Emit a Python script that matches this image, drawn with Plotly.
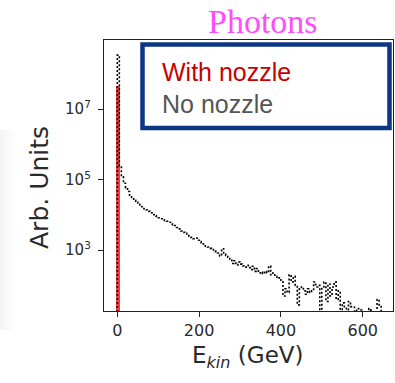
import plotly.graph_objects as go

# ---- data ----
bin_width = 5  # GeV
bin_edges_left = list(range(0, 650, 5))  # 0..645
# "No nozzle" photon spectrum, counts per 5 GeV bin (0 = empty bin)
no_nozzle_counts = [
    3.4e8, 2.5e5, 1.2e5, 7.9e4, 5.8e4, 4.6e4, 3.6e4, 3.1e4, 2.6e4, 2.3e4,
    2.0e4, 1.9e4, 1.7e4, 1.5e4, 1.4e4, 1.26e4, 1.15e4, 1.02e4, 9.5e3, 9.1e3,
    8.3e3, 7.8e3, 7.2e3, 6.9e3, 6.6e3, 6.2e3, 5.5e3, 5.2e3, 5.0e3, 4.4e3,
    4.0e3, 3.5e3, 3.2e3, 3.0e3, 2.6e3, 2.5e3, 2.3e3, 2.1e3, 2.2e3, 1.9e3,
    1.74e3, 1.6e3, 1.5e3, 1.3e3, 1.23e3, 1.12e3, 1.1e3, 955, 910, 830,
    680, 1.1e3, 760, 710, 630, 550, 420, 500, 380, 460,
    400, 355, 330, 370, 320, 280, 350, 250, 300, 225,
    240, 215, 250, 230, 355, 200, 225, 180, 160, 165,
    140, 50, 80, 63, 200, 125, 180, 100, 28, 80,
    90, 70, 56, 80, 63, 70, 125, 90, 100, 0,
    90, 125, 35, 110, 50, 90, 125, 40, 70, 0,
    32, 25, 0, 35, 25, 24, 0, 22, 0, 20,
    0, 0, 0, 22, 0, 0, 0, 40, 28, 0,
]
# "With nozzle": all photons in the lowest-energy bin
with_nozzle_energy = [2.5]
with_nozzle_counts = [4.5e7]

x_ticks = [0, 200, 400, 600]
y_ticks = [1e3, 1e5, 1e7]
y_tick_text = ["10<sup>3</sup>", "10<sup>5</sup>", "10<sup>7</sup>"]

floor = 1.0  # empty bins drawn below the axis floor (clipped)
step_x = [bin_edges_left[0]] + bin_edges_left + [bin_edges_left[-1] + bin_width]
step_y = [floor] + [c if c > 0 else floor for c in no_nozzle_counts] + [floor]

fig = go.Figure()
fig.add_trace(go.Bar(
    x=with_nozzle_energy, y=with_nozzle_counts, width=9,
    marker=dict(color="rgba(238,40,40,0.9)", line=dict(width=0)),
    showlegend=False,
))
fig.add_trace(go.Scatter(
    x=step_x, y=step_y, mode="lines", line_shape="hv",
    line=dict(color="black", width=1.6, dash="2px,2px"),
    showlegend=False,
))

tick_font = dict(family="DejaVu Sans", size=16, color="#2a2a2a")
fig.update_xaxes(
    range=[-32.5, 674], tickvals=x_ticks, ticks="outside", ticklen=5,
    tickcolor="#222", tickwidth=1.2, showline=True, linecolor="#222",
    linewidth=1.3, mirror=True, showgrid=False, zeroline=False,
    tickfont=tick_font,
)
fig.update_yaxes(
    type="log", range=[1.274, 8.96], tickvals=y_ticks, ticktext=y_tick_text,
    ticks="outside", ticklen=5, tickcolor="#222", tickwidth=1.2,
    showline=True, linecolor="#222", linewidth=1.3, mirror=True,
    showgrid=False, zeroline=False, tickfont=dict(family="DejaVu Sans", size=15, color="#2a2a2a"),
    ticklabelstandoff=4,
)

shapes = []
# faint shadow at left edge
for i, a in enumerate([0.045, 0.035, 0.025, 0.016, 0.009, 0.004]):
    shapes.append(dict(type="rect", xref="paper", yref="paper",
                       x0=(i * 3 - 104) / 289, x1=(i * 3 + 3 - 104) / 289,
                       y0=(311 - 330) / 271, y1=(311 - 130) / 271,
                       fillcolor=f"rgba(0,0,0,{a})", line=dict(width=0), layer="below"))
# legend box
shapes.append(dict(type="rect", xref="paper", yref="paper",
                   x0=(142.5 - 104) / 289, x1=(389.5 - 104) / 289,
                   y0=(311 - 128) / 271, y1=(311 - 44.5) / 271,
                   fillcolor="white", line=dict(color="#0b3585", width=4.5)))

annotations = [
    dict(text="Photons", xref="paper", yref="paper",
         x=(263 - 104) / 289, y=(311 - 1) / 271, showarrow=False,
         font=dict(family="Liberation Serif", size=34, color="#ff4cff"),
         xanchor="center", yanchor="top"),
    dict(text="With nozzle", xref="paper", yref="paper",
         x=(160 - 104) / 289, y=(311 - 72) / 271, showarrow=False,
         font=dict(family="Liberation Sans", size=25, color="#c80000"),
         xanchor="left", yanchor="middle"),
    dict(text="No nozzle", xref="paper", yref="paper",
         x=(160 - 104) / 289, y=(311 - 104) / 271, showarrow=False,
         font=dict(family="Liberation Sans", size=25, color="#555555"),
         xanchor="left", yanchor="middle"),
    dict(text="Arb. Units", xref="paper", yref="paper",
         x=(40 - 104) / 289, y=(311 - 188) / 271, showarrow=False, textangle=-90,
         font=dict(family="DejaVu Sans", size=25, color="#2a2a2a"),
         xanchor="center", yanchor="middle"),
    dict(text="E<sub><i>kin</i></sub> (GeV)", xref="paper", yref="paper",
         x=(248 - 104) / 289, y=(311 - 357) / 271, showarrow=False,
         font=dict(family="DejaVu Sans", size=23, color="#2a2a2a"),
         xanchor="center", yanchor="middle"),
]

fig.update_layout(
    width=395, height=383,
    margin=dict(l=104, r=2, t=40, b=72),
    paper_bgcolor="white", plot_bgcolor="white",
    shapes=shapes, annotations=annotations,
    bargap=0,
)

fig.write_html("out.html")
